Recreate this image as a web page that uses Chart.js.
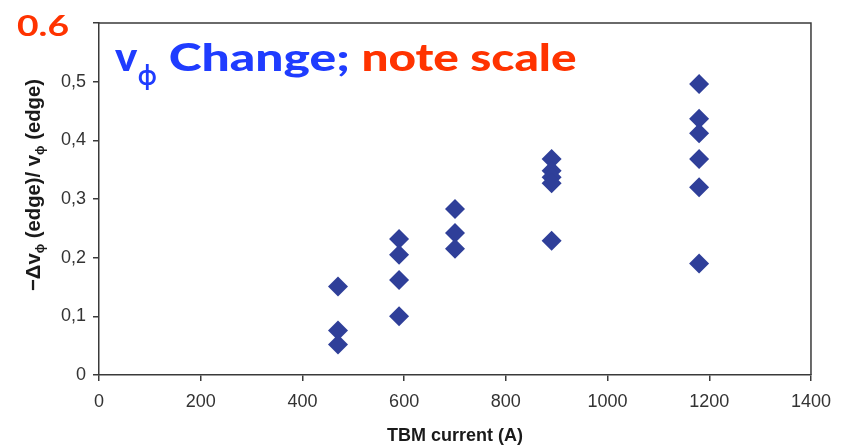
<!DOCTYPE html>
<html>
<head>
<meta charset="utf-8">
<script src="https://cdn.jsdelivr.net/npm/chart.js@4.4.1/dist/chart.umd.min.js"></script>
<style>
  html, body { margin: 0; padding: 0; background: #fff; }
  #wrap { width: 841px; height: 445px; position: relative; }
</style>
</head>
<body>
<div id="wrap"><canvas id="graphCanvas"></canvas></div>
<script>
// TBM current (A) and -dv_phi(edge)/v_phi(edge)
const tbmCurrent = [470, 470, 470, 590, 590, 590, 590, 700, 700, 700,
  890, 890, 890, 890, 890, 1180, 1180, 1180, 1180, 1180, 1180];
const vPhiChange = [0.151, 0.076, 0.052, 0.232, 0.205, 0.162, 0.100, 0.283, 0.242, 0.215,
  0.368, 0.348, 0.337, 0.327, 0.229, 0.496, 0.437, 0.412, 0.368, 0.320, 0.190];

const xTicks = [0, 200, 400, 600, 800, 1000, 1200, 1400];
const yTicks = [0, 0.1, 0.2, 0.3, 0.4, 0.5, 0.6];

const NARROW = '"Liberation Sans Narrow", "Arial Narrow", "Liberation Sans", Arial, sans-serif';
const GEO = 'Lato, "Open Sans", "DejaVu Sans", sans-serif';
const BLUE = "#1f3cff";
const RED = "#ff3300";
const AXIS = "#3a3a3a";

// 文字を横幅に合わせて描く
function fitText(ctx, text, left, baseline, inkWidth, font, color) {
  ctx.save();
  ctx.font = font;
  ctx.fillStyle = color;
  ctx.textAlign = "left";
  ctx.textBaseline = "alphabetic";
  const m = ctx.measureText(text);
  const w = m.actualBoundingBoxLeft + m.actualBoundingBoxRight;
  ctx.translate(left, baseline);
  ctx.scale(inkWidth / w, 1);
  ctx.fillText(text, m.actualBoundingBoxLeft, 0);
  ctx.restore();
}

const decorations = {
  id: "decorations",
  afterDraw(chart) {
    const { ctx, chartArea: a } = chart;
    ctx.save();
    // top and right frame
    ctx.strokeStyle = AXIS;
    ctx.lineWidth = 1.5;
    ctx.beginPath();
    ctx.moveTo(a.left, a.top);
    ctx.lineTo(a.right, a.top);
    ctx.lineTo(a.right, a.bottom);
    ctx.stroke();

    // red 0.6 in place of the top tick label
    const y06 = chart.scales.y.getPixelForValue(0.6);
    fitText(ctx, "0.6", 17, y06 + 13, 51, "bold 29px " + GEO, RED);

    // title inside plot
    fitText(ctx, "v", a.left + 16, a.top + 48, 23, "900 40px " + GEO, BLUE);
    fitText(ctx, "\u03d5", a.left + 39, a.top + 62, 18, "bold 28px " + GEO, BLUE);
    fitText(ctx, "Change;", a.left + 71, a.top + 48, 178, "900 38px " + GEO, BLUE);
    fitText(ctx, "note scale", a.left + 265, a.top + 48, 212, "900 38px " + GEO, RED);

    // y axis title with subscripts
    const runs = [
      ["\u2212\u0394v", "bold 21px " + NARROW, 0],
      ["\u03d5", "bold 13px " + NARROW, 4],
      [" (edge)/ v", "bold 21px " + NARROW, 0],
      ["\u03d5", "bold 13px " + NARROW, 4],
      [" (edge)", "bold 21px " + NARROW, 0],
    ];
    let total = 0;
    runs.forEach(r => { ctx.font = r[1]; total += ctx.measureText(r[0]).width; });
    const len = 212;
    ctx.translate(40, (a.top + a.bottom) / 2 - 14);
    ctx.rotate(-Math.PI / 2);
    ctx.scale(len / total, 1);
    ctx.fillStyle = "#1a1a1a";
    ctx.textBaseline = "alphabetic";
    let x = -total / 2;
    runs.forEach(r => {
      ctx.font = r[1];
      ctx.fillText(r[0], x, r[2]);
      x += ctx.measureText(r[0]).width;
    });
    ctx.restore();
  }
};

const ctx = document.getElementById("graphCanvas").getContext("2d");
const data = {
  datasets: [
    {
      label: "vphi change",
      data: tbmCurrent.map((c, i) => ({ x: c, y: vPhiChange[i] })),
      pointStyle: "rectRot",
      pointRadius: 10,
      pointHoverRadius: 10,
      pointBorderWidth: 0,
      backgroundColor: "#2f3f99",
      borderColor: "#2f3f99",
      showLine: false,
    },
  ],
};
const options = {
  responsive: true,
  maintainAspectRatio: false,
  animation: false,
  layout: { padding: { left: 0, top: 23, right: 29, bottom: 0 } },
  plugins: {
    legend: { display: false },
    tooltip: { enabled: false },
    title: { display: false },
  },
  scales: {
    x: {
      type: "linear",
      min: 0,
      max: 1400,
      afterBuildTicks: axis => { axis.ticks = xTicks.map(v => ({ value: v })); },
      afterFit: scale => { scale.height = 70; },
      grid: { drawOnChartArea: false, drawTicks: true, tickLength: 6, color: AXIS, lineWidth: 1.5 },
      border: { display: true, color: AXIS, width: 1.5 },
      ticks: {
        padding: 10,
        color: "#333",
        font: { family: NARROW, size: 18 },
        maxRotation: 0,
        autoSkip: false,
        callback: v => String(v),
      },
      title: {
        display: true,
        text: "TBM current (A)",
        color: "#1a1a1a",
        font: { family: NARROW, size: 18, weight: "bold" },
        padding: { top: 0, bottom: -2 },
      },
    },
    y: {
      type: "linear",
      min: 0,
      max: 0.6,
      afterBuildTicks: axis => { axis.ticks = yTicks.map(v => ({ value: v })); },
      afterFit: scale => { scale.width = 99; },
      grid: { drawOnChartArea: false, drawTicks: true, tickLength: 6, color: AXIS, lineWidth: 1.5 },
      border: { display: true, color: AXIS, width: 1.5 },
      ticks: {
        padding: 7,
        color: "#333",
        font: { family: NARROW, size: 18 },
        autoSkip: false,
        callback: v => (v === 0 ? "0" : v > 0.55 ? "" : v.toFixed(1).replace(".", ",")),
      },
    },
  },
};

new Chart(ctx, { type: "scatter", data: data, options: options, plugins: [decorations] });
</script>
</body>
</html>
